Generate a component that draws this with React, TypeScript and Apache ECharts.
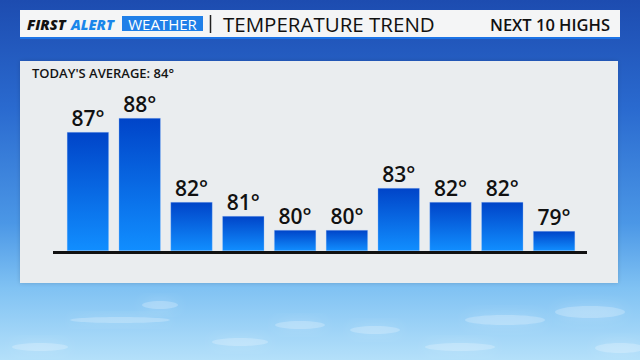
import React, { useEffect, useRef } from "react";
import * as echarts from "echarts";

const days = ["WED", "THU", "FRI", "SAT", "SUN", "MON", "TUE", "WED", "THU", "FRI"];
const highs = [87, 88, 82, 81, 80, 80, 83, 82, 82, 79];
const todaysAverage = 84;
const brandFirst = "FIRST";
const brandAlert = "ALERT";
const brandWeather = "WEATHER";
const title = "TEMPERATURE TREND";
const subtitle = "NEXT 10 HIGHS";

const FONT = "'Open Sans', 'Noto Sans', sans-serif";

export default function App() {
  const ref = useRef<HTMLDivElement>(null);
  useEffect(() => {
    const chart = echarts.init(ref.current!, null, { renderer: "svg" });
    const clouds = [
      [160, 305, 18, 4], [300, 325, 25, 4], [240, 342, 28, 4], [375, 330, 25, 4],
      [505, 320, 40, 5], [590, 312, 35, 6], [40, 347, 28, 4], [460, 347, 35, 4],
      [620, 348, 25, 5], [120, 320, 50, 3],
    ];
    chart.setOption({
      animation: false,
      backgroundColor: new echarts.graphic.LinearGradient(0, 0, 0, 1, [
        { offset: 0, color: "#1d4cb0" },
        { offset: 0.3, color: "#2a6acf" },
        { offset: 0.62, color: "#4b97e6" },
        { offset: 0.8, color: "#80c2f3" },
        { offset: 1, color: "#b4e0fa" },
      ]),
      grid: { left: 62, right: 60, top: 90, bottom: 109 },
      xAxis: {
        type: "category",
        data: days,
        axisLine: { show: false },
        axisTick: { show: false },
        axisLabel: { color: "#151515", fontSize: 16, fontFamily: FONT, fontWeight: 600, margin: 11 },
      },
      yAxis: { type: "value", min: 78.5, max: 90, startValue: 78.5, show: false },
      series: [
        {
          type: "bar",
          data: highs,
          barWidth: 42,
          barMinHeight: 20,
          z: 3,
          itemStyle: {
            color: new echarts.graphic.LinearGradient(0, 0, 0, 1, [
              { offset: 0, color: "#0044c8" },
              { offset: 1, color: "#118eff" },
            ]),
            borderColor: "rgba(180,210,255,0.6)",
            borderWidth: 0.5,
          },
          label: {
            show: true,
            position: "top",
            distance: 4,
            formatter: "{c}°",
            fontSize: 21,
            fontWeight: 600,
            color: "#111",
            fontFamily: FONT,
          },
        },
      ],
      graphic: [
        ...clouds.map(([cx, cy, rx, ry]) => ({
          type: "ellipse",
          z: 0,
          shape: { cx, cy, rx, ry },
          style: { fill: "rgba(255,255,255,0.22)", shadowBlur: 14, shadowColor: "rgba(255,255,255,0.9)" },
        })),
        { type: "rect", z: 1, shape: { x: 20, y: 10, width: 600, height: 27 }, style: { fill: "#f4f5f6" } },
        { type: "rect", z: 1, shape: { x: 20, y: 37, width: 600, height: 2 }, style: { fill: "#1b73e6" } },
        {
          type: "text", z: 2, x: 27, y: 24,
          style: { text: brandFirst, fill: "#121212", fontSize: 14.5, fontWeight: 900, fontStyle: "italic", fontFamily: FONT, verticalAlign: "middle" },
        },
        {
          type: "text", z: 2, x: 71, y: 24,
          style: { text: brandAlert, fill: "#1a86ea", fontSize: 14.5, fontWeight: 900, fontStyle: "italic", fontFamily: FONT, verticalAlign: "middle" },
        },
        { type: "rect", z: 1, shape: { x: 122, y: 16, width: 81, height: 15 }, style: { fill: "#1f7fe8" } },
        {
          type: "text", z: 2, x: 162.5, y: 24,
          style: { text: brandWeather, fill: "#ffffff", fontSize: 15, fontWeight: 500, fontFamily: FONT, align: "center", verticalAlign: "middle" },
        },
        { type: "line", z: 2, shape: { x1: 210.5, y1: 15, x2: 210.5, y2: 33 }, style: { stroke: "#222", lineWidth: 1.5 } },
        {
          type: "text", z: 2, x: 223, y: 24,
          style: { text: title, fill: "#111", fontSize: 20.5, fontWeight: 500, fontFamily: FONT, verticalAlign: "middle" },
        },
        {
          type: "text", z: 2, x: 610, y: 24,
          style: { text: subtitle, fill: "#111", fontSize: 16.5, fontWeight: 600, fontFamily: FONT, align: "right", verticalAlign: "middle" },
        },
        {
          type: "rect", z: 1, shape: { x: 20, y: 61, width: 598, height: 222 },
          style: { fill: "#eaedef", shadowBlur: 4, shadowColor: "rgba(0,0,0,0.15)" },
        },
        {
          type: "text", z: 2, x: 32, y: 72.5,
          style: { text: `TODAY'S AVERAGE: ${todaysAverage}°`, fill: "#151515", fontSize: 13, fontWeight: 600, fontFamily: FONT, verticalAlign: "middle" },
        },
        { type: "line", z: 10, shape: { x1: 53, y1: 252.5, x2: 587, y2: 252.5 }, style: { stroke: "#111", lineWidth: 3 } },
      ],
    });
    return () => chart.dispose();
  }, []);
  return <div ref={ref} style={{ position: "fixed", left: 0, top: 0, width: 640, height: 360 }} />;
}
